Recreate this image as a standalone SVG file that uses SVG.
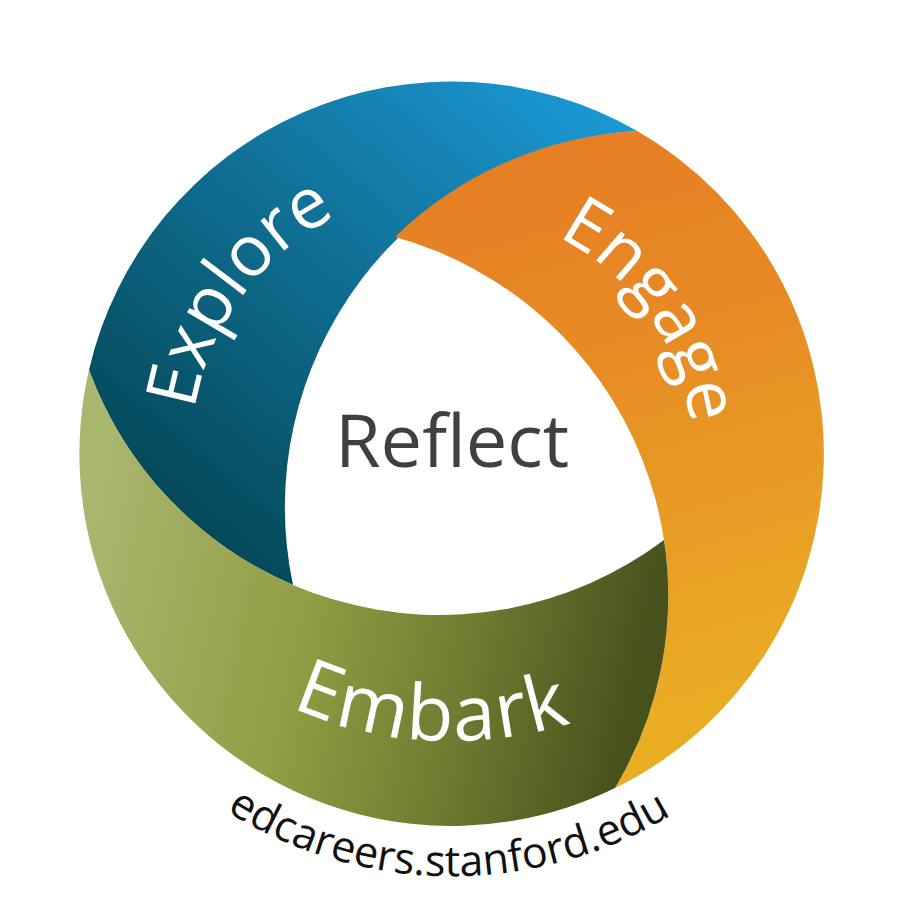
<svg xmlns="http://www.w3.org/2000/svg" width="906" height="906" viewBox="0 0 906 906">
  <defs>
    <linearGradient id="blueGrad" gradientUnits="userSpaceOnUse" x1="630" y1="110" x2="240" y2="570">
      <stop offset="0" stop-color="#1b9ad8"/>
      <stop offset="0.45" stop-color="#11739a"/>
      <stop offset="1" stop-color="#044857"/>
    </linearGradient>
    <linearGradient id="orangeGrad" gradientUnits="userSpaceOnUse" x1="560" y1="140" x2="720" y2="700">
      <stop offset="0" stop-color="#e67e24"/>
      <stop offset="0.35" stop-color="#e78a25"/>
      <stop offset="1" stop-color="#e9ad24"/>
    </linearGradient>
    <linearGradient id="greenGrad" gradientUnits="userSpaceOnUse" x1="90" y1="520" x2="650" y2="640">
      <stop offset="0" stop-color="#a9b66e"/>
      <stop offset="0.4" stop-color="#919e44"/>
      <stop offset="0.7" stop-color="#6e7b30"/>
      <stop offset="1" stop-color="#46511c"/>
    </linearGradient>
    <path id="exploreArc" d="M 209.1 548.3 A 265 265 0 0 1 593.5 225.8"/>
    <path id="engageArc" d="M 368.9 224.7 A 244 244 0 0 1 638.1 609.2"/>
    <path id="embarkArc" d="M 58 414.5 A 401 401 0 0 0 846 414.5"/>
    <path id="urlArc" d="M 35.4 526.5 A 423 423 0 0 0 868.6 526.5"/>
  </defs>
  <style>
    .band-label { font-family: "Open Sans", "Noto Sans", "DejaVu Sans", sans-serif; fill: #ffffff; }
    .center-label { font-family: "Open Sans", "Noto Sans", "DejaVu Sans", sans-serif; fill: #404040; font-size: 74px; }
    .url { font-family: "Open Sans", "Noto Sans", "DejaVu Sans", sans-serif; fill: #111111; font-size: 43px; }
  </style>
  <rect x="0" y="0" width="906" height="906" fill="#ffffff"/>

  <g id="explore">
    <path d="M 89 370 A 372 372 0 0 1 637 131 A 377 377 0 0 0 293 585 A 373.4 373.4 0 0 1 89 370 Z" fill="url(#blueGrad)"/>
    <text class="band-label" font-size="71"><textPath href="#exploreArc" startOffset="40.3%" text-anchor="middle">Explore</textPath></text>
  </g>

  <g id="engage">
    <path d="M 637 131 A 372 372 0 0 1 615 788 A 372.5 372.5 0 0 0 395 237 A 377 377 0 0 1 637 131 Z" fill="url(#orangeGrad)"/>
    <text class="band-label" font-size="71"><textPath href="#engageArc" startOffset="49.7%" text-anchor="middle">Engage</textPath></text>
  </g>

  <g id="embark">
    <path d="M 615 788 A 372 372 0 0 1 89 370 A 373.4 373.4 0 0 0 664 540 A 372.5 372.5 0 0 1 615 788 Z" fill="url(#greenGrad)"/>
    <text class="band-label" font-size="77" letter-spacing="2"><textPath href="#embarkArc" startOffset="48.1%" text-anchor="middle">Embark</textPath></text>
  </g>

  <g id="reflect">
    <text class="center-label" x="452" y="467" text-anchor="middle">Reflect</text>
  </g>

  <g id="website">
    <text class="url"><textPath href="#urlArc" startOffset="49.7%" text-anchor="middle">edcareers.stanford.edu</textPath></text>
  </g>

  <g id="connectors"/>
</svg>
